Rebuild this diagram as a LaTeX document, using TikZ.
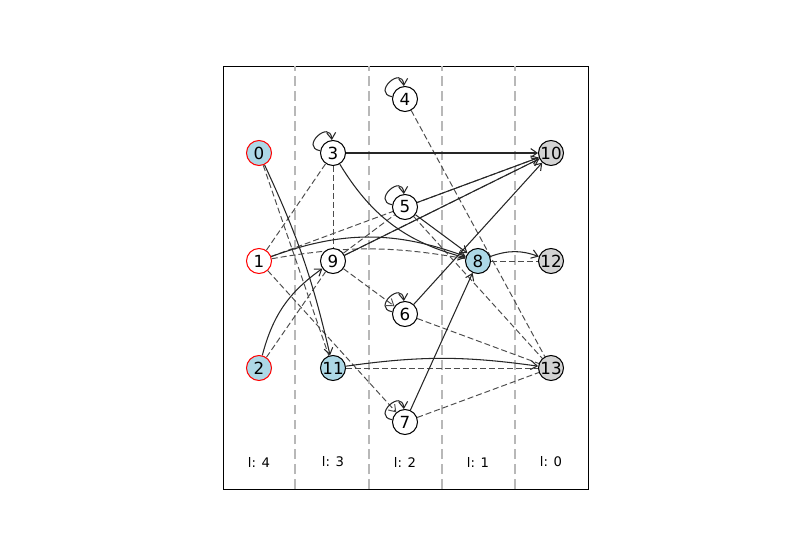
\documentclass[tikz,border=0pt]{standalone}
\usepackage{fontspec}
\setmainfont{DejaVu Sans}
\usetikzlibrary{arrows.meta,backgrounds}
\definecolor{lightblue}{HTML}{ADD8E6}
\definecolor{sinkgray}{HTML}{D3D3D3}

\begin{document}
\begin{tikzpicture}[line join=round,>={Straight Barb[length=3.6pt,width=5pt]},
  vertex/.style={circle,draw=black,line width=0.6pt,fill=white,minimum size=0.5cm,inner sep=0pt,font=\fontsize{9.5}{10}\selectfont},
  src/.style={vertex,draw=red},
  fwd/.style={line width=0.6pt,draw=black!85},
  back/.style={line width=0.55pt,draw=black!70,dash pattern=on 3.4pt off 1.7pt},
  selfloop/.style={fwd,->,out=170,in=95,min distance=4.2mm,looseness=1},
  layerline/.style={line width=0.9pt,draw=black!28,dash pattern=on 5.5pt off 3pt},
  layerlabel/.style={font=\fontsize{7.5}{8}\selectfont}]
  \useasboundingbox (0,0) rectangle (16,11);
  \node[src,fill=lightblue] (n0) at (5.18,7.94) {0};
  \node[src] (n1) at (5.18,5.78) {1};
  \node[src,fill=lightblue] (n2) at (5.18,3.64) {2};
  \node[vertex] (n3) at (6.66,7.94) {3};
  \node[vertex] (n9) at (6.66,5.78) {9};
  \node[vertex,fill=lightblue] (n11) at (6.66,3.64) {11};
  \node[vertex] (n4) at (8.10,9.02) {4};
  \node[vertex] (n5) at (8.10,6.86) {5};
  \node[vertex] (n6) at (8.10,4.72) {6};
  \node[vertex] (n7) at (8.10,2.56) {7};
  \node[vertex,fill=lightblue] (n8) at (9.56,5.78) {8};
  \node[vertex,fill=sinkgray] (n10) at (11.02,7.94) {10};
  \node[vertex,fill=sinkgray] (n12) at (11.02,5.78) {12};
  \node[vertex,fill=sinkgray] (n13) at (11.02,3.64) {13};
  \foreach \x/\l in {5.18/4,6.66/3,8.10/2,9.56/1,11.02/0}
    \node[layerlabel] (lab\l) at (\x,1.76) {l: \l};
  \begin{scope}[on background layer]
    \draw[line width=0.5pt] (4.46,1.22) rectangle (11.76,9.68);
    \foreach \x in {5.90,7.38,8.84,10.30}
      \draw[layerline] (\x,1.22) -- (\x,9.68);
    \draw[back] (n0) -- (n11);
    \draw[back] (n1) -- (n3);
    \draw[back] (n3) -- (n9);
    \draw[back] (n1) -- (n10);
    \draw[back] (n1) to[bend left=10] (n8);
    \draw[back] (n2) -- (n9);
    \draw[back] (n9) -- (n5);
    \draw[back] (n9) -- (n10);
    \draw[back] (n4) -- (n13);
    \draw[back] (n5) -- (n13);
    \draw[back] (n6) -- (n13);
    \draw[back] (n7) -- (n13);
    \draw[back] (n11) -- (n13);
    \draw[back] (n8) -- (n12);
    \draw[back,->] (n9) -- (n6);
    \draw[back,->] (n1) -- (n7);
    \draw[fwd,->] (n3) -- (n10);
    \draw[fwd,->] (n3) to[bend right=22] (n8);
    \draw[fwd,->] (n5) -- (n10);
    \draw[fwd,->] (n5) -- (n8);
    \draw[fwd,->] (n9) -- (n10);
    \draw[fwd,->] (n6) -- (n10);
    \draw[fwd,->] (n1) to[bend left=20] (n8);
    \draw[fwd,->] (n7) -- (n8);
    \draw[fwd,->] (n2) to[bend left=20] (n9);
    \draw[fwd,->] (n0) to[bend left=6] (n11);
    \draw[fwd,->] (n11) to[bend left=8] (n13);
    \draw[fwd,->] (n8) to[bend left=20] (n12);
    \foreach \v in {n3,n4,n5,n6,n7}
      \draw[selfloop] (\v) to (\v);
  \end{scope}
\end{tikzpicture}
\end{document}
